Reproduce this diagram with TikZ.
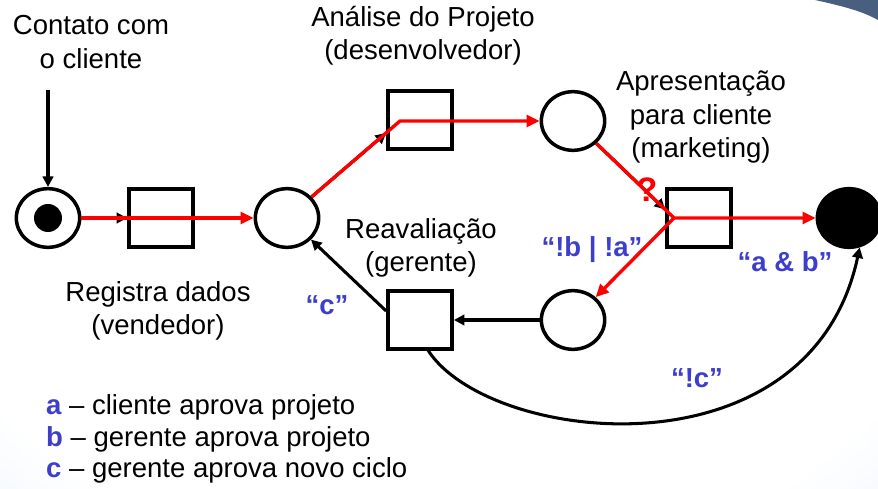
\documentclass[tikz,border=0pt]{standalone}
\usepackage{fontspec}
\setmainfont{Liberation Sans}
\usetikzlibrary{arrows.meta,shapes.geometric}
\definecolor{fundo}{RGB}{172,205,245}
\definecolor{azul}{RGB}{62,62,204}
\definecolor{canto}{RGB}{72,95,128}
\pgfdeclareradialshading{fundoradial}{\pgfpoint{0bp}{0bp}}{color(0bp)=(white); color(22bp)=(white); color(50bp)=(fundo); color(100bp)=(fundo)}
\tikzset{
	lugar/.style={draw, ellipse, line width=3pt, minimum width=1.9cm, minimum height=1.76cm, inner sep=0pt},
	transicao/.style={draw, rectangle, line width=3pt, minimum width=1.93cm, minimum height=1.73cm, inner sep=0pt},
	texto/.style={align=center, font=\fontsize{23.5}{28.5}\selectfont},
	cond/.style={text=azul, font=\fontsize{23.5}{28}\selectfont\bfseries},
	arco/.style={line width=2.6pt, -{Triangle[length=9pt,width=9pt]}},
	fluxo/.style={line width=2.9pt, color=red, line join=round},
	seta/.style={fluxo, -{Triangle[length=11pt,width=10pt]}}
}

\begin{document}
\begin{tikzpicture}[x=0.03cm, y=-0.03cm]
			%%%%% START %%%%%
			\useasboundingbox (0,0) rectangle (878,489);
			
			\begin{scope}
				\clip (0,0) rectangle (878,489);
				\shade[shading=fundoradial] (-200,-400) rectangle (1080,640);
				\fill[canto] (815,0) .. controls (842,6) and (862,11) .. (878,20) -- (878,0) -- cycle;
			\end{scope}
			
			\node[lugar] (P0) at (48,218) {};
			\node[circle, fill=black, minimum size=0.84cm, inner sep=0pt] (marca) at (48,218) {};
			\node[transicao] (T1) at (161,218) {};
			\node[lugar] (P1) at (287,218) {};
			
			\node[transicao] (T2) at (420,120) {};
			\node[lugar] (P2) at (573,121) {};
			
			\node[transicao] (T3) at (699,218) {};
			\node[lugar, fill=black] (Pfim) at (849,218) {};
			
			\node[lugar] (P3) at (573,320) {};
			\node[transicao] (T4) at (420,320) {};
			
			\coordinate (ini) at (48,90);
			\coordinate (k2) at (400,121);
			\coordinate (j3) at (674,218);
			\coordinate (t2in) at (intersection of P1--k2 and T2.north west--T2.south west);
			\coordinate (t3in) at (intersection of P2--j3 and T3.north west--T3.south west);
			
			% arcos pretos
			\draw[arco] (ini) -- (P0);
			\draw[arco] (P0) -- (T1);
			\draw[arco] (P1) -- (t2in);
			\draw[arco] (P2) -- (t3in);
			\draw[arco] (P3) -- (T4);
			\draw[arco] (T4.165) -- (P1.-42);
			\draw[arco] (T4.-75) .. controls (490,445) and (810,480) .. (Pfim.-70);
			
			% caminho em vermelho
			\draw[seta] (P0) -- (P1);
			\draw[seta] (P1) -- (k2) -- (P2);
			\draw[seta] (P2) -- (j3) -- (Pfim);
			\draw[seta] (j3) -- (P3);
			\node[text=red, font=\fontsize{29}{30}\selectfont\bfseries] (duvida) at (647,190) {?};
			
			\node[texto] (tContato) at (91,42) {Contato com\\o cliente};
			\node[texto] (tAnalise) at (423,36) {Análise do Projeto\\(desenvolvedor)};
			\node[texto] (tApres) at (701,117) {Apresentação\\para cliente\\(marketing)};
			\node[texto] (tReav) at (421,248) {Reavaliação\\(gerente)};
			\node[texto] (tRegistra) at (158,311) {Registra dados\\(vendedor)};
			
			\node[cond] (cC) at (327,305) {“c”};
			\node[cond] (cBA) at (592,250) {“!b | !a”};
			\node[cond] (cAB) at (785,262) {“a \& b”};
			\node[cond] (cNC) at (697,378) {“!c”};
			
			\node[align=left, anchor=west, font=\fontsize{23.5}{27}\selectfont] (legenda) at (42,439)
				{\textcolor{azul}{\bfseries a} – cliente aprova projeto\\
				 \textcolor{azul}{\bfseries b} – gerente aprova projeto\\
				 \textcolor{azul}{\bfseries c} – gerente aprova novo ciclo};
			
			%%%%% END %%%%%
\end{tikzpicture}
\end{document}
